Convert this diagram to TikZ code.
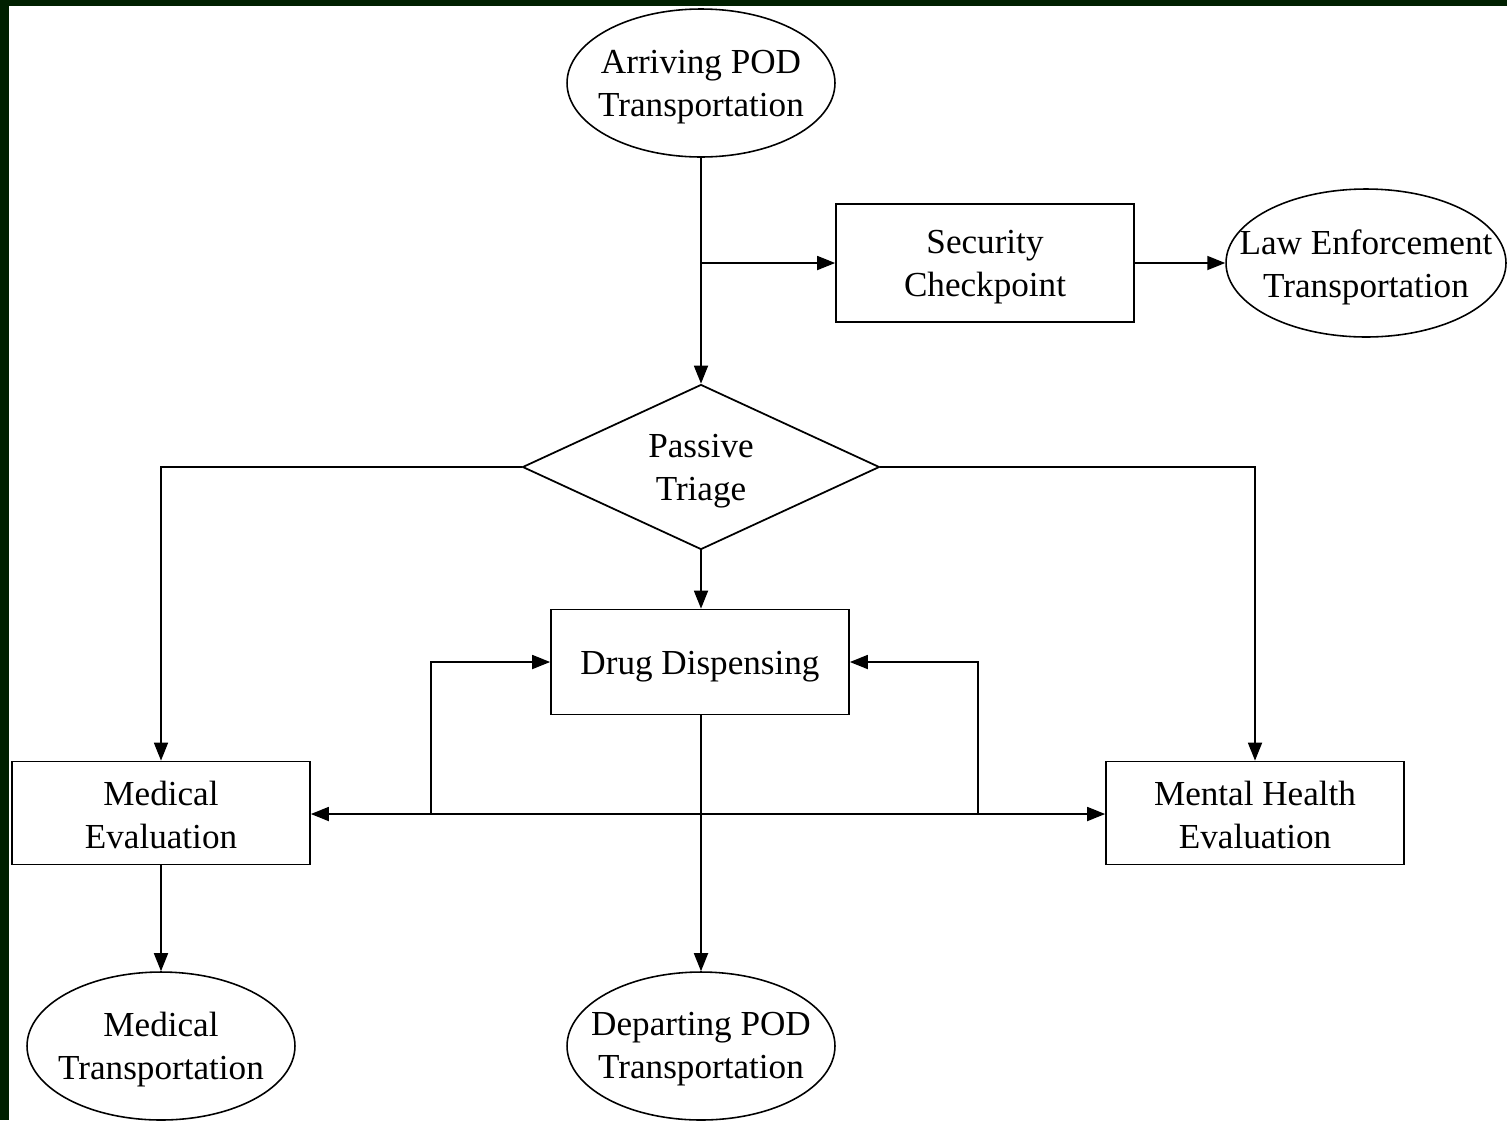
\documentclass[tikz,border=0pt]{standalone}
\usepackage{fontspec}
\setmainfont{Liberation Serif}
\usetikzlibrary{shapes.geometric,arrows.meta}
\definecolor{frame}{HTML}{002000}
\tikzset{flowtip/.tip={Triangle[length=0.36cm,width=0.28cm]}}
\begin{document}
\begin{tikzpicture}[x=0.02cm,y=-0.02cm,
  every node/.style={inner sep=0pt},
  label text/.style={font=\fontsize{20}{24.5}\selectfont, align=center},
  oval/.style={ellipse, draw, line width=0.9pt, minimum width=5.36cm, minimum height=2.96cm},
  stepbox/.style={rectangle, draw, line width=1pt, minimum width=5.96cm},
  decision/.style={diamond, draw, line width=1pt, minimum width=7.14cm, minimum height=3.3cm},
  link/.style={line width=1pt, -flowtip}]
% page with dark frame on top and left
\fill[frame] (0,0) rectangle (1507,1120);
\fill[white] (9,6) rectangle (1507,1120);
\useasboundingbox (0,0) rectangle (1507,1120);

% shapes
\node[oval] (arr) at (701,83) {};
\node[stepbox, minimum height=2.36cm] (sec) at (985,263) {};
\node[oval, minimum width=5.6cm] (law) at (1366,263) {};
\node[decision] (tri) at (701,467) {};
\node[stepbox, minimum height=2.1cm] (drug) at (700,662) {};
\node[stepbox, minimum height=2.06cm] (med) at (161,813) {};
\node[stepbox, minimum height=2.06cm] (ment) at (1255,813) {};
\node[oval] (mtr) at (161,1046) {};
\node[oval] (dep) at (701,1046) {};

% texts
\node[label text] (arr-t) at ([yshift=-0.09cm]arr.center) {Arriving POD\\Transportation};
\node[label text] (sec-t) at ([yshift=-0.09cm]sec.center) {Security\\Checkpoint};
\node[label text] (law-t) at ([yshift=-0.09cm]law.center) {Law Enforcement\\Transportation};
\node[label text] (tri-t) at ([yshift=-0.09cm]tri.center) {Passive\\Triage};
\node[label text] (drug-t) at ([yshift=-0.09cm]drug.center) {Drug Dispensing};
\node[label text] (med-t) at ([yshift=-0.03cm]med.center) {Medical\\Evaluation};
\node[label text] (ment-t) at ([yshift=-0.03cm]ment.center) {Mental Health\\Evaluation};
\node[label text] (mtr-t) at ([yshift=-0.07cm]mtr.center) {Medical\\Transportation};
\node[label text] (dep-t) at ([yshift=-0.07cm]dep.center) {Departing POD\\Transportation};

% junction points
\coordinate (j1) at (arr.south |- sec.west);
\coordinate (jl) at (431,814);
\coordinate (jr) at (978,814);

% connectors
\draw[link] (arr.south) -- (tri.north);
\draw[link] (j1) -- (sec.west);
\draw[link] (sec.east) -- (law.west);
\draw[link] (tri.west) -| (med.north);
\draw[link] (tri.east) -| (ment.north);
\draw[link] (tri.south) -- (tri.south |- drug.north);
\draw[link] (dep.north |- drug.south) -- (dep.north);
\draw[link] (med.south) -- (mtr.north);
\draw[line width=1pt, flowtip-flowtip] (med.east |- jl) -- (ment.west |- jl);
\draw[link] (jl) |- (drug.west);
\draw[link] (jr) |- (drug.east);
\end{tikzpicture}
\end{document}
